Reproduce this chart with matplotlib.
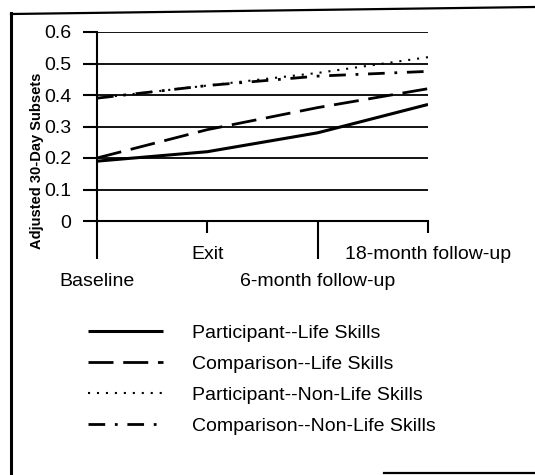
import matplotlib.pyplot as plt
from matplotlib.lines import Line2D

plt.rcParams['font.family'] = ['Liberation Sans', 'DejaVu Sans']

# Data
timepoints = ['Baseline', 'Exit', '6-month follow-up', '18-month follow-up']
participant_life = [0.19, 0.22, 0.28, 0.37]
comparison_life = [0.20, 0.29, 0.36, 0.42]
participant_nonlife = [0.39, 0.43, 0.47, 0.52]
comparison_nonlife = [0.39, 0.43, 0.46, 0.475]
series_labels = ['Participant--Life Skills', 'Comparison--Life Skills',
                 'Participant--Non-Life Skills', 'Comparison--Non-Life Skills']
y_ticks = [0, 0.1, 0.2, 0.3, 0.4, 0.5, 0.6]
y_ticklabels = ['0', '0.1', '0.2', '0.3', '0.4', '0.5', '0.6']

W, H = 535, 475
fig = plt.figure(figsize=(W / 100, H / 100), dpi=100)
ax = fig.add_axes([97 / W, 1 - 221 / H, (428 - 97) / W, (221 - 32) / H])

x = list(range(len(timepoints)))
h1, = ax.plot(x, participant_life, color='black', lw=2.2, solid_capstyle='butt')
h2, = ax.plot(x, comparison_life, color='black', lw=2.0, linestyle=(0, (9, 3.5)))
h3, = ax.plot(x, participant_nonlife, color='black', lw=1.5, linestyle=(0, (1, 3.3)))
h4, = ax.plot(x, comparison_nonlife, color='black', lw=2.0, linestyle=(0, (6, 3.5, 1, 3.5)))

ax.set_xlim(0, 3)
ax.set_ylim(0, 0.6)
ax.set_yticks(y_ticks)
ax.set_yticklabels(y_ticklabels)
ax.yaxis.grid(True, color='black', lw=1.3)
ax.set_axisbelow(True)

for s in ['top', 'right']:
    ax.spines[s].set_visible(False)
for s in ['left', 'bottom']:
    ax.spines[s].set_linewidth(1.5)

# staggered category labels: long ticks for 0 and 2, short for 1 and 3
ax.set_xticks([0, 2])
ax.set_xticklabels([timepoints[0], timepoints[2]])
ax.set_xticks([1, 3], minor=True)
ax.set_xticklabels([timepoints[1], timepoints[3]], minor=True)
ax.tick_params(axis='x', which='major', length=27, width=1.5, pad=10.5, labelsize=14)
ax.tick_params(axis='x', which='minor', length=8.5, width=1.5, pad=9.5, labelsize=14)
ax.tick_params(axis='y', direction='out', length=10, width=1.5, pad=8.5, labelsize=14)

fig.text(37 / W, 1 - 161 / H, 'Adjusted 30-Day Subsets', rotation=90,
         ha='center', va='center', fontsize=10.5, fontweight='bold')

fig.legend([h1, h2, h3, h4], series_labels, loc='upper left',
           bbox_to_anchor=(70 / W, 1 - 307 / H), frameon=False, fontsize=14,
           handlelength=3.9, handletextpad=1.5, labelspacing=0.69)

# scanned page frame
fig.add_artist(Line2D([11 / W, 11 / W], [0, 1 - 13 / H], transform=fig.transFigure,
                      color='black', lw=2.2))
fig.add_artist(Line2D([11 / W, 1], [1 - 14 / H, 1 - 7 / H], transform=fig.transFigure,
                      color='black', lw=1.6))
fig.add_artist(Line2D([384 / W, 1], [1 - 473 / H, 1 - 473 / H], transform=fig.transFigure,
                      color='black', lw=1.6))

fig.savefig('out.png', dpi=100)
